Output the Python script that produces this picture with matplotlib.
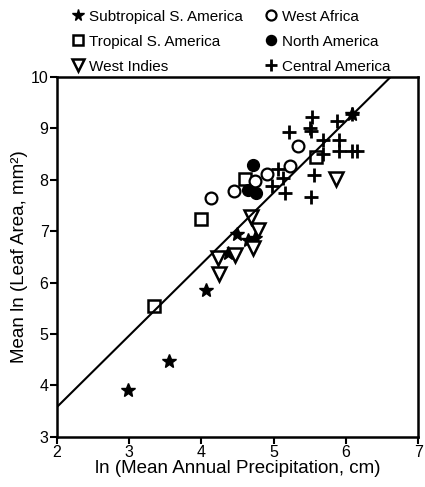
import numpy as np
import matplotlib
matplotlib.use('Agg')
import matplotlib.pyplot as plt

plt.rcParams['font.family'] = ['Liberation Sans', 'DejaVu Sans']

# ln(precip), mean ln(leaf area) per group
sub_x = [2.99, 3.55, 4.06, 4.37, 4.49, 4.65, 4.74, 6.08]
sub_y = [3.91, 4.48, 5.85, 6.58, 6.95, 6.82, 6.87, 9.28]

trop_x = [3.34, 4.00, 4.60, 5.59]
trop_y = [5.54, 7.24, 8.01, 8.44]

wi_x = [4.23, 4.24, 4.46, 4.68, 4.78, 4.72, 5.86]
wi_y = [6.48, 6.17, 6.54, 7.28, 7.03, 6.68, 8.01]

waf_x = [4.13, 4.45, 4.74, 4.91, 5.22, 5.34]
waf_y = [7.64, 7.79, 7.97, 8.12, 8.27, 8.66]

na_x = [4.71, 4.65, 4.75]
na_y = [8.29, 7.81, 7.74]

ca_x = [5.06, 5.13, 4.97, 5.16, 5.21, 5.50, 5.52, 5.53, 5.88, 6.08,
        5.68, 5.91, 5.91, 5.68, 6.08, 6.15, 5.56, 5.51]
ca_y = [8.20, 8.03, 7.87, 7.74, 8.92, 9.00, 8.95, 9.22, 9.15, 9.28,
        8.78, 8.78, 8.55, 8.51, 8.55, 8.55, 8.10, 7.66]

# regression line y = a + b*x
fit_a = 0.80
fit_b = 1.39

fig = plt.figure(figsize=(4.25, 4.87), dpi=100)
ax = fig.add_axes([0.134, 0.103, 0.85, 0.739])

ms = 8.5
ax.plot(sub_x, sub_y, '*', color='k', ms=ms + 1.5, ls='none', label='Subtropical S. America')
ax.plot(trop_x, trop_y, 's', mfc='white', mec='k', mew=1.8, ms=ms, ls='none', label='Tropical S. America')
ax.plot(wi_x, wi_y, 'v', mfc='white', mec='k', mew=1.8, ms=ms + 1, ls='none', label='West Indies')
ax.plot(waf_x, waf_y, 'o', mfc='white', mec='k', mew=1.6, ms=ms, ls='none', label='West Africa')
ax.plot(na_x, na_y, 'o', color='k', ms=ms, ls='none', label='North America')
ax.plot(ca_x, ca_y, '+', color='k', mew=2, ms=ms + 1, ls='none', label='Central America')

xl = np.array([2.0, (10 - fit_a) / fit_b])
ax.plot(xl, fit_a + fit_b * xl, color='k', lw=1.5)

ax.set_xlim(2, 7)
ax.set_ylim(3, 10)
ax.set_xticks([2, 3, 4, 5, 6, 7])
ax.set_yticks([3, 4, 5, 6, 7, 8, 9, 10])
ax.tick_params(direction='out', length=5, width=1.5, labelsize=11.5, pad=1)
for s in ax.spines.values():
    s.set_linewidth(1.8)
ax.set_xlabel('ln (Mean Annual Precipitation, cm)', fontsize=13.5, labelpad=0)
ax.set_ylabel('Mean ln (Leaf Area, mm²)', fontsize=13.5, labelpad=2)

fig.legend(loc='upper left', bbox_to_anchor=(0.14, 0.999), ncol=2, frameon=False,
           fontsize=11, handletextpad=0.15, columnspacing=1.2, labelspacing=0.72,
           handlelength=1.2, borderaxespad=0.2, markerscale=0.85)

fig.savefig('out.png', dpi=100)
